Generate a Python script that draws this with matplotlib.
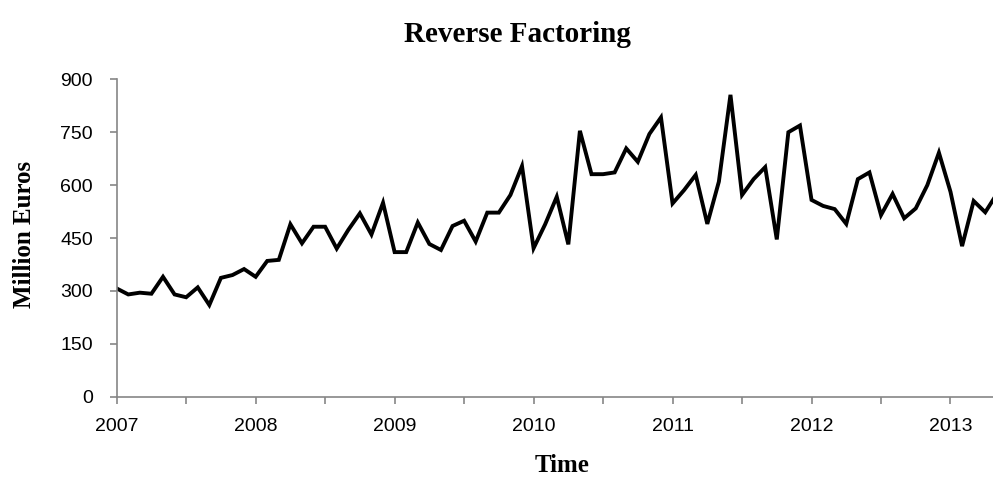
import numpy as np
import matplotlib.pyplot as plt

# monthly values, Jan 2007 .. May 2013 (million euros)
vals_2007 = [307, 290, 295, 292, 340, 290, 282, 310, 260, 337, 345, 362]
vals_2008 = [340, 385, 388, 489, 435, 482, 482, 420, 473, 520, 460, 550]
vals_2009 = [410, 410, 494, 433, 416, 484, 499, 440, 522, 522, 572, 654]
vals_2010 = [421, 489, 567, 432, 754, 631, 631, 636, 704, 666, 745, 792]
vals_2011 = [548, 586, 629, 490, 610, 856, 572, 617, 651, 446, 750, 769]
vals_2012 = [558, 541, 532, 490, 617, 636, 515, 575, 506, 534, 600, 692]
vals_2013 = [581, 427, 555, 523, 575]

valores = np.array(vals_2007 + vals_2008 + vals_2009 + vals_2010
                   + vals_2011 + vals_2012 + vals_2013)
tempo = 2007 + np.arange(len(valores)) / 12.0

anos = [2007, 2008, 2009, 2010, 2011, 2012, 2013]
meio_ano = [2007.5, 2008.5, 2009.5, 2010.5, 2011.5, 2012.5]
y_ticks = [0, 150, 300, 450, 600, 750, 900]

cinza = '#868686'
fonte_rotulo = ['Liberation Sans', 'DejaVu Sans']
fonte_titulo = ['Liberation Serif', 'DejaVu Serif']

fig = plt.figure(figsize=(9.93, 4.97), dpi=100)
ax = fig.add_axes([0.1175, 0.2018, 0.8825, 0.6386])

ax.plot(tempo, valores, color='black', linewidth=2.8, solid_joinstyle='miter')

ax.set_xticks(anos)
ax.set_xticks(meio_ano, minor=True)
ax.set_yticks(y_ticks)
# limites depois dos ticks (set_xticks expande a vista)
ax.set_xlim(2007, 2007 + 75.67 / 12)
ax.set_ylim(0, 900)

for lado in ['top', 'right']:
    ax.spines[lado].set_visible(False)
for lado in ['left', 'bottom']:
    ax.spines[lado].set_color(cinza)
    ax.spines[lado].set_linewidth(1.2)

ax.tick_params(axis='x', which='both', direction='out', length=5, width=1.2,
               color=cinza, pad=10)
ax.tick_params(axis='y', direction='out', length=5, width=1.2, color=cinza, pad=12)
for lbl in ax.get_xticklabels() + ax.get_yticklabels():
    lbl.set_family(fonte_rotulo)
    lbl.set_fontsize(14)

fig.text(0.521, 0.916, 'Reverse Factoring', ha='center', va='baseline',
         family=fonte_titulo, fontweight='bold', fontsize=21)
fig.text(0.025, 0.529, 'Million Euros', ha='center', va='center', rotation=90,
         family=fonte_titulo, fontweight='bold', fontsize=18)
fig.text(0.566, 0.0503, 'Time', ha='center', va='baseline',
         family=fonte_titulo, fontweight='bold', fontsize=18)

fig.savefig('out.png', dpi=100)
